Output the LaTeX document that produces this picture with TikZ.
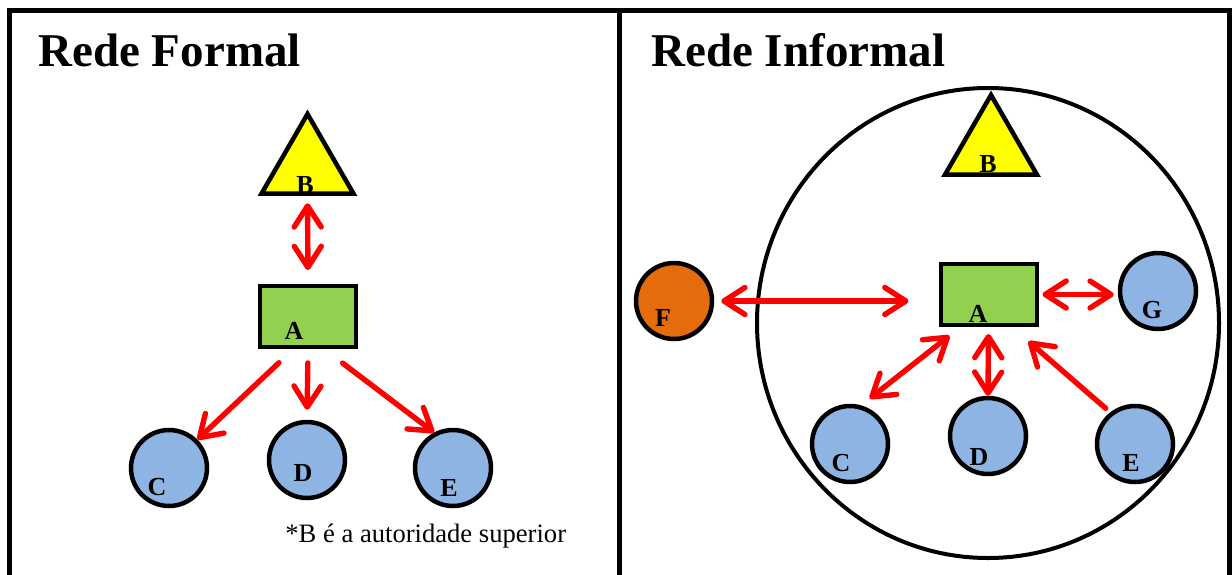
\documentclass[tikz,border=0pt]{standalone}
\usepackage{fontspec}
\setmainfont{Liberation Serif}
\usetikzlibrary{shapes.geometric,arrows.meta,calc}
\definecolor{amarelo}{RGB}{255,255,0}
\definecolor{verde}{RGB}{146,208,80}
\definecolor{azul}{RGB}{142,180,227}
\definecolor{laranja}{RGB}{228,108,10}

\begin{document}
\begin{tikzpicture}[x=0.5pt,y=-0.5pt,
  tri/.style={regular polygon,regular polygon sides=3,draw,line width=2.25pt,fill=amarelo,minimum size=53pt,inner sep=0pt},
  ret/.style={rectangle,draw,line width=2pt,fill=verde,minimum width=48pt,minimum height=30.5pt,inner sep=0pt},
  pess/.style={circle,draw,line width=2.25pt,fill=azul,minimum size=38pt,inner sep=0pt},
  letra/.style={font=\fontsize{13}{13}\selectfont\bfseries,inner sep=0pt},
  titulo/.style={font=\fontsize{23.5}{28}\selectfont\bfseries,anchor=base west,inner sep=0pt},
  ponta/.tip={Straight Barb[length=10.5pt,width=13.5pt,round]},
  seta/.style={red,line width=2.7pt,line cap=round,-ponta},
  setadupla/.style={seta,ponta-ponta}]
  \clip (0,0) rectangle (1232,574);
  % moldura
  \draw[line width=2.5pt] (9,10.5) rectangle (1229.5,700) (619,10.5) -- (619,700);

  % rede formal
  \node[titulo] (tf) at (38,66) {Rede Formal};
  \node[tri,label={[letra,shift={(-2.5,18)}]center:B}] (B1) at (307.5,167) {};
  \node[ret,label={[letra,shift={(-14,14.5)}]center:A}] (A1) at (308,316.5) {};
  \node[pess,label={[letra,shift={(-12,19)}]center:C}] (C1) at (169,468) {};
  \node[pess,label={[letra,shift={(-4,13)}]center:D}] (D1) at (307,460) {};
  \node[pess,label={[letra,shift={(-4,20)}]center:E}] (E1) at (453,468) {};
  \node[anchor=base west,inner sep=0pt,font=\fontsize{13.3}{16}\selectfont] (nota) at (285,542) {*B é a autoridade superior};
  \draw[setadupla,shorten <=3.75pt,shorten >=7pt] (B1.south) -- (A1.north);
  \draw[seta,shorten <=10pt] ([xshift=-7.25pt]A1.south) -- (C1.45);
  \draw[seta,shorten <=7pt,shorten >=5pt] (A1.south) -- (D1.north);
  \draw[seta,shorten <=11.7pt] ([xshift=8pt]A1.south) -- (E1.118);

  % rede informal
  \node[titulo] (ti) at (651,66) {Rede Informal};
  \draw[line width=2pt] (988,323) ellipse [x radius=115.5pt,y radius=117.5pt];
  \node[tri,label={[letra,shift={(-3,16)}]center:B}] (B2) at (991,148) {};
  \node[ret,label={[letra,shift={(-10.5,19.5)}]center:A}] (A2) at (988.5,294.5) {};
  \node[pess,fill=laranja,label={[letra,shift={(-11,17)}]center:F}] (F) at (674,301) {};
  \node[pess,label={[letra,shift={(-6,19)}]center:G}] (G) at (1158,291) {};
  \node[pess,label={[letra,shift={(-9,19)}]center:C}] (C2) at (850,444) {};
  \node[pess,label={[letra,shift={(-9,21)}]center:D}] (D2) at (988,436) {};
  \node[pess,label={[letra,shift={(-4,19)}]center:E}] (E2) at (1135,444) {};
  \draw[setadupla,shorten <=3.5pt,shorten >=15pt] (F.east) -- (F.east -| A2.west);
  \draw[setadupla,shorten <=2pt,shorten >=2pt] (A2.east) -- (A2.east -| G.west);
  \draw[setadupla,shorten <=5.5pt,shorten >=7pt] (C2.74) -- ([xshift=-14pt]A2.south);
  \draw[setadupla,shorten >=3.5pt] (D2.north) -- (A2.south);
  \draw[seta,shorten <=3pt,shorten >=10.9pt] (E2.128) -- ([xshift=11.75pt]A2.south);
\end{tikzpicture}
\end{document}
